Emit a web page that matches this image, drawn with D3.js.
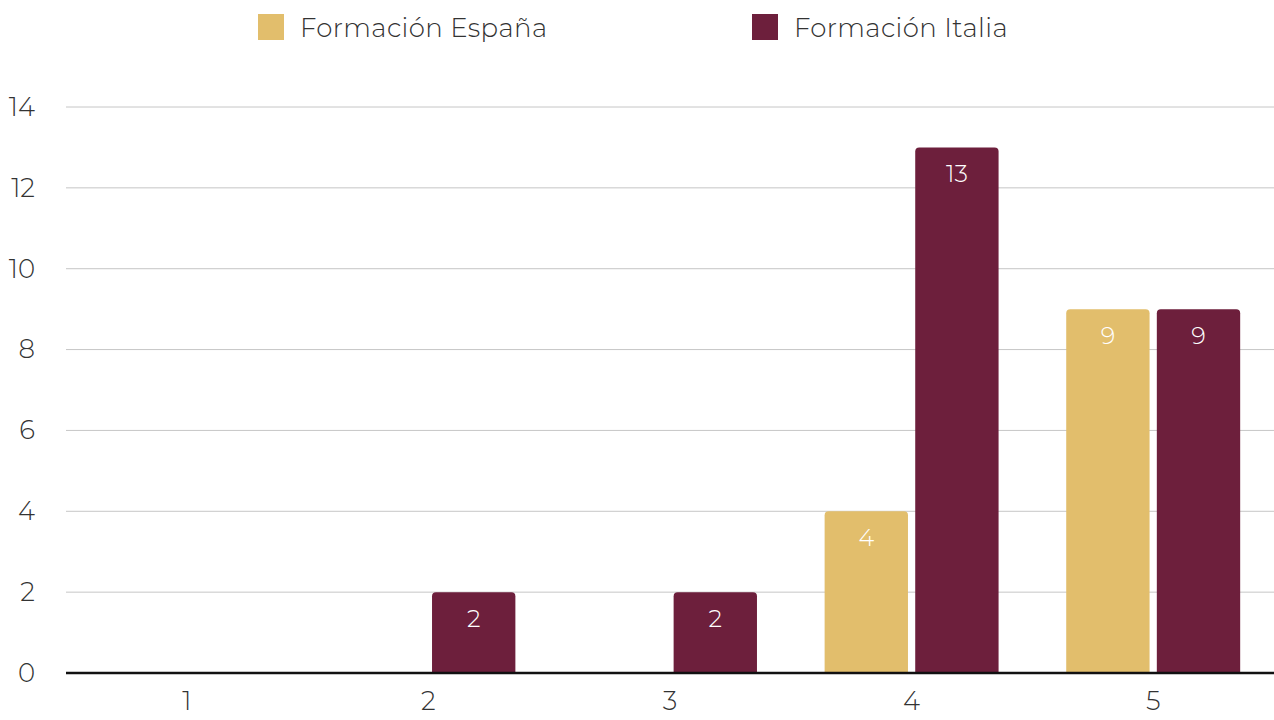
<!DOCTYPE html>
<html>
<head>
<meta charset="utf-8">
<script src="https://cdn.jsdelivr.net/npm/d3@7"></script>
<style>
  body { margin: 0; background: #fff; }
  svg text { font-family: Montserrat, Lato, "Open Sans", sans-serif; font-weight: 300; }
</style>
</head>
<body>
<div id="chart"></div>
<script>
// Chart data
var categories = ["1", "2", "3", "4", "5"];
var seriesNames = ["Formación España", "Formación Italia"];
var espana = [0, 0, 0, 4, 9];
var italia = [0, 2, 2, 13, 9];
var yTicks = [0, 2, 4, 6, 8, 10, 12, 14];
var colors = ["#E2BE6C", "#6D1F3C"];

var W = 1274, H = 720;
var margin = { top: 107, right: 0, bottom: 47, left: 66 },
    width = W - margin.left - margin.right,
    height = H - margin.top - margin.bottom;

// build rows for grouping
var rows = categories.map(function (c, i) {
    return { cat: c, values: [espana[i], italia[i]] };
});

const svg = d3.select("#chart").append("svg")
    .attr("width", W)
    .attr("height", H);

const g = svg.append("g")
    .attr("transform", "translate(" + margin.left + "," + margin.top + ")");

const x0 = d3.scaleBand()
    .domain(categories)
    .range([0, width])
    .paddingInner(0.28)
    .paddingOuter(0.14);

const x1 = d3.scaleBand()
    .domain([0, 1])
    .range([0, x0.bandwidth()])
    .paddingInner(0.08)
    .paddingOuter(0);

const y = d3.scaleLinear()
    .domain([0, 14])
    .range([height, 0]);

// gridlines
g.append("g")
    .selectAll("line")
    .data(yTicks.filter(function (t) { return t > 0; }))
    .join("line")
    .attr("x1", 0).attr("x2", width)
    .attr("y1", function (d) { return y(d); })
    .attr("y2", function (d) { return y(d); })
    .attr("stroke", "#c6c6c6")
    .attr("stroke-width", 1);

// y axis labels
const yAxis = d3.axisLeft(y).tickValues(yTicks).tickSize(0).tickPadding(31);
g.append("g")
    .call(yAxis)
    .call(function (s) { s.select(".domain").remove(); })
    .selectAll("text")
    .style("font-size", "26px")
    .attr("fill", "#333");

// x axis labels
const xAxis = d3.axisBottom(x0).tickSize(0).tickPadding(19);
g.append("g")
    .attr("transform", "translate(0," + height + ")")
    .call(xAxis)
    .call(function (s) { s.select(".domain").remove(); })
    .selectAll("text")
    .style("font-size", "26px")
    .attr("fill", "#333");

// bars: path with rounded top corners
function barPath(x, yTop, w, h, r) {
    if (h <= 0) return "";
    r = Math.min(r, h, w / 2);
    return "M" + x + "," + (yTop + h)
        + "V" + (yTop + r)
        + "Q" + x + "," + yTop + " " + (x + r) + "," + yTop
        + "H" + (x + w - r)
        + "Q" + (x + w) + "," + yTop + " " + (x + w) + "," + (yTop + r)
        + "V" + (yTop + h) + "Z";
}

var groups = g.selectAll(".grp")
    .data(rows)
    .join("g")
    .attr("class", "grp")
    .attr("transform", function (d) { return "translate(" + x0(d.cat) + ",0)"; });

groups.selectAll("path")
    .data(function (d) { return d.values.map(function (v, k) { return { k: k, v: v }; }); })
    .join("path")
    .attr("fill", function (d) { return colors[d.k]; })
    .attr("d", function (d) {
        return barPath(x1(d.k), y(d.v), x1.bandwidth(), height - y(d.v), 4);
    });

groups.selectAll("text.val")
    .data(function (d) { return d.values.map(function (v, k) { return { k: k, v: v }; }).filter(function (e) { return e.v > 0; }); })
    .join("text")
    .attr("class", "val")
    .attr("x", function (d) { return x1(d.k) + x1.bandwidth() / 2; })
    .attr("y", function (d) { return y(d.v) + 35; })
    .attr("text-anchor", "middle")
    .attr("fill", "#fff")
    .style("font-size", "24px")
    .text(function (d) { return d.v; });

// baseline
g.append("line")
    .attr("x1", 0).attr("x2", width)
    .attr("y1", y(0)).attr("y2", y(0))
    .attr("stroke", "#111")
    .attr("stroke-width", 2.5);

// legend
var legendX = [258, 752];
var legend = svg.append("g");
seriesNames.forEach(function (name, i) {
    legend.append("rect")
        .attr("x", legendX[i]).attr("y", 14)
        .attr("width", 26).attr("height", 26)
        .attr("fill", colors[i]);
    legend.append("text")
        .attr("x", legendX[i] + 42).attr("y", 37)
        .attr("fill", "#333")
        .style("font-size", "26px")
        .style("letter-spacing", "0.4px")
        .text(name);
});
</script>
</body>
</html>
